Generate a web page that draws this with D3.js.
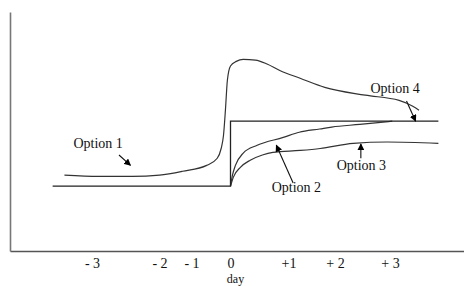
<!DOCTYPE html>
<html>
<head>
<meta charset="utf-8">
<script src="https://cdn.jsdelivr.net/npm/d3@7"></script>
<style>
    body { margin: 0; background: #fff; }
</style>
</head>
<body>
<script>
// tick positions on the day axis and their labels
let dayTicks = [-3, -2, -1, 0, 1, 2, 3];
let dayLabels = ["- 3", "- 2", "- 1", "0", "+1", "+ 2", "+ 3"];

// curves: [day, level], level 0 = baseline, level 1 = new plateau
let option1 = [[-3.42, 0.17], [-2.90, 0.15], [-2.40, 0.15], [-2.0, 0.17], [-1.28, 0.23], [-0.61, 0.32],
    [-0.34, 0.43], [-0.24, 0.58], [-0.18, 0.78], [-0.13, 1.17], [-0.08, 1.63], [0.0, 1.85],
    [0.10, 1.92], [0.22, 1.95], [0.43, 1.94], [0.63, 1.88], [0.85, 1.78], [1.25, 1.66],
    [1.78, 1.52], [2.55, 1.40], [3.16, 1.32], [3.40, 1.23], [3.51, 1.17]];
let option2 = [[0, 0], [0.034, 0.17], [0.085, 0.32], [0.22, 0.51], [0.46, 0.63], [0.91, 0.75],
    [1.23, 0.83], [1.67, 0.88], [1.93, 0.91], [2.45, 0.95], [3.04, 1.0]];
let option3 = [[0, 0], [0.05, 0.14], [0.17, 0.29], [0.34, 0.40], [0.55, 0.48], [0.73, 0.52],
    [1.25, 0.55], [1.68, 0.58], [2.33, 0.66], [2.95, 0.68], [3.85, 0.66]];
let option4 = [[-3.6, 0], [0, 1], [3.85, 1]];

// annotations: label [day, level], arrow from / to [day, level]
let noteText = ["Option 1", "Option 2", "Option 3", "Option 4"];
let notePos = [[-2.91, 0.58], [1.17, -0.09], [2.48, 0.25], [3.09, 1.43]];
let arrowFrom = [[-2.60, 0.48], [1.10, 0.05], [2.47, 0.43], [3.29, 1.31]];
let arrowTo = [[-2.43, 0.32], [0.79, 0.63], [2.47, 0.65], [3.45, 1.0]];

let width = 464;
let height = 286;
let serif = "'Liberation Serif', 'Times New Roman', Times, 'DejaVu Serif', serif";

let svg = d3.select("body").append("svg")
    .attr("width", width)
    .attr("height", height);

// the day axis is hand spaced, so a piecewise scale
let xScale = d3.scaleLinear()
    .domain([-4.25, -3, -2, -1, 0, 1, 2, 3, 4.3])
    .range([10, 92, 159.5, 191.5, 230.5, 288.5, 335, 390, 464]);
let yScale = d3.scaleLinear()
    .domain([-0.997, 2.68])
    .range([251, 12]);

svg.append("defs").append("marker")
    .attr("id", "head")
    .attr("viewBox", "0 0 10 10")
    .attr("refX", 9).attr("refY", 5)
    .attr("markerWidth", 7).attr("markerHeight", 7)
    .attr("markerUnits", "userSpaceOnUse")
    .attr("orient", "auto")
    .append("path")
    .attr("d", "M0,0 L10,5 L0,10 z")
    .attr("fill", "#000");

// axes
let xAxis = d3.axisBottom(xScale)
    .tickValues(dayTicks)
    .tickSize(0)
    .tickPadding(7.5)
    .tickFormat((d, i) => dayLabels[i]);
let gx = svg.append("g")
    .attr("transform", "translate(0," + yScale(-0.997) + ")")
    .call(xAxis)
    .attr("font-family", serif)
    .attr("font-size", 14);
gx.select(".domain").attr("stroke", "#555").attr("stroke-width", 1.6);
gx.selectAll("text").attr("fill", "#111");

let gy = svg.append("g")
    .attr("transform", "translate(" + xScale(-4.25) + ",0)")
    .call(d3.axisLeft(yScale).ticks(0).tickSize(0));
gy.select(".domain").attr("stroke", "#777").attr("stroke-width", 1.6);

svg.append("text")
    .attr("x", xScale(0) + 5)
    .attr("y", 283)
    .attr("text-anchor", "middle")
    .attr("font-family", serif)
    .attr("font-size", 12)
    .attr("fill", "#111")
    .text("day");

// curves
let line = d3.line()
    .x(d => xScale(d[0]))
    .y(d => yScale(d[1]))
    .curve(d3.curveMonotoneX);
let stepLine = d3.line()
    .x(d => xScale(d[0]))
    .y(d => yScale(d[1]))
    .curve(d3.curveStepAfter);

[option1, option2, option3].forEach(s => {
    svg.append("path")
        .attr("d", line(s))
        .attr("fill", "none")
        .attr("stroke", "#333")
        .attr("stroke-width", 1.2);
});
svg.append("path")
    .attr("d", stepLine(option4))
    .attr("fill", "none")
    .attr("stroke", "#222")
    .attr("stroke-width", 1.3);

// labels and arrows
svg.selectAll(".note")
    .data(noteText)
    .join("text")
    .attr("class", "note")
    .attr("x", (d, i) => xScale(notePos[i][0]))
    .attr("y", (d, i) => yScale(notePos[i][1]))
    .attr("text-anchor", "middle")
    .attr("font-family", serif)
    .attr("font-size", 14)
    .attr("fill", "#111")
    .text(d => d);

svg.selectAll(".arrow")
    .data(arrowFrom)
    .join("line")
    .attr("class", "arrow")
    .attr("x1", d => xScale(d[0]))
    .attr("y1", d => yScale(d[1]))
    .attr("x2", (d, i) => xScale(arrowTo[i][0]))
    .attr("y2", (d, i) => yScale(arrowTo[i][1]))
    .attr("stroke", "#111")
    .attr("stroke-width", 1.1)
    .attr("marker-end", "url(#head)");
</script>
</body>
</html>
